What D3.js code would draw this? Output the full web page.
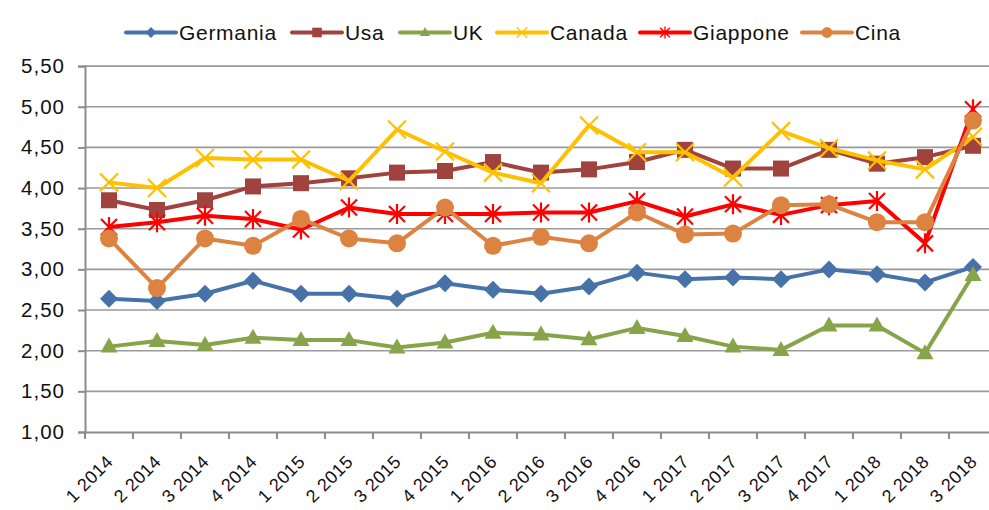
<!DOCTYPE html>
<html><head><meta charset="utf-8">
<script src="https://cdn.jsdelivr.net/npm/d3@7"></script>
<style>body{margin:0;background:#fff}svg{display:block}</style>
</head><body>
<svg id="c" width="989" height="510"></svg>
<script>
const categories = ["1 2014","2 2014","3 2014","4 2014","1 2015","2 2015","3 2015","4 2015","1 2016","2 2016","3 2016","4 2016","1 2017","2 2017","3 2017","4 2017","1 2018","2 2018","3 2018"];
const germania = [2.64,2.61,2.70,2.86,2.70,2.70,2.64,2.83,2.75,2.70,2.79,2.96,2.88,2.90,2.88,3.00,2.94,2.84,3.03];
const usa      = [3.85,3.73,3.85,4.02,4.06,4.12,4.19,4.21,4.32,4.19,4.23,4.32,4.47,4.24,4.24,4.47,4.30,4.38,4.52];
const uk       = [2.05,2.12,2.07,2.16,2.13,2.13,2.04,2.10,2.22,2.20,2.14,2.28,2.18,2.05,2.01,2.31,2.31,1.97,2.93];
const canada   = [4.07,4.00,4.37,4.35,4.35,4.09,4.72,4.45,4.19,4.06,4.77,4.44,4.44,4.13,4.70,4.49,4.34,4.23,4.63];
const giappone = [3.52,3.58,3.66,3.62,3.49,3.76,3.68,3.68,3.68,3.70,3.70,3.84,3.65,3.80,3.67,3.79,3.84,3.32,4.97];
const cina     = [3.38,2.77,3.38,3.29,3.62,3.38,3.32,3.76,3.29,3.40,3.32,3.70,3.43,3.44,3.79,3.80,3.58,3.58,4.83];
const yTicks = [1.0,1.5,2.0,2.5,3.0,3.5,4.0,4.5,5.0,5.5];
const seriesNames = ["Germania","Usa","UK","Canada","Giappone","Cina"];

const series = [
  {name:"Germania", values:germania, color:"#4672A8", marker:"diamond"},
  {name:"Usa", values:usa, color:"#A0423D", marker:"square"},
  {name:"UK", values:uk, color:"#87A44B", marker:"triangle"},
  {name:"Canada", values:canada, color:"#FFC000", marker:"x"},
  {name:"Giappone", values:giappone, color:"#FF0000", marker:"star"},
  {name:"Cina", values:cina, color:"#DC8341", marker:"circle"}
];

const svg = d3.select("#c");
const font = "'Liberation Sans',Arial,sans-serif";
const L = 85, R = 997, T = 66.1, B = 432;
const x = d3.scaleBand().domain(categories).range([L, R]);
const y = d3.scaleLinear().domain([1, 5.5]).range([B, T]);
const fmt = v => d3.format(".2f")(v).replace(".", ",");

// gridlines
svg.append("g").selectAll("line").data(yTicks.slice(1)).join("line")
  .attr("x1", L).attr("x2", R).attr("y1", d => y(d)).attr("y2", d => y(d))
  .attr("stroke", "#9a9a9a").attr("stroke-width", 1.6);

// y axis
const ya = svg.append("g").attr("transform", `translate(${L},0)`)
  .call(d3.axisLeft(y).tickValues(yTicks).tickFormat(fmt).tickSize(7).tickPadding(13));
ya.select(".domain").attr("stroke", "#8c8c8c").attr("stroke-width", 2);
ya.selectAll(".tick line").attr("stroke", "#8c8c8c").attr("stroke-width", 2);
ya.selectAll("text").attr("font-family", font).attr("font-size", 20.5)
  .attr("letter-spacing", 1).attr("fill", "#111");

// x axis
const xa = svg.append("g").attr("transform", `translate(0,${B})`)
  .call(d3.axisBottom(x).tickSize(0).tickSizeOuter(0));
xa.select(".domain").attr("stroke", "#8c8c8c").attr("stroke-width", 2);
xa.selectAll(".tick line").remove();
xa.selectAll(".tick text")
  .attr("font-family", font).attr("font-size", 18).attr("letter-spacing", 0.4).attr("fill", "#111")
  .attr("text-anchor", "end").attr("dy", 0).attr("y", 0)
  .attr("transform", "translate(5,31) rotate(-45)");
// boundary tick marks
svg.append("g").selectAll("line").data(categories).join("line")
  .attr("x1", d => x(d)).attr("x2", d => x(d)).attr("y1", B).attr("y2", B + 7)
  .attr("stroke", "#8c8c8c").attr("stroke-width", 2);

function drawMarker(g, type, color) {
  switch (type) {
    case "diamond":
      g.append("path").attr("d", "M0,-9L9,0L0,9L-9,0Z").attr("fill", color); break;
    case "square":
      g.append("rect").attr("x", -8).attr("y", -8).attr("width", 16).attr("height", 16).attr("fill", color); break;
    case "triangle":
      g.append("path").attr("d", "M0,-9L8.5,6L-8.5,6Z").attr("fill", color); break;
    case "circle":
      g.append("circle").attr("r", 9).attr("fill", color); break;
    case "x":
      g.append("path").attr("d", "M-9,-9L9,9M-9,9L9,-9").attr("stroke", color).attr("stroke-width", 2.2); break;
    case "star":
      g.append("path").attr("d", "M-8,-8L8,8M-8,8L8,-8M0,-10L0,10").attr("stroke", color).attr("stroke-width", 2.2); break;
  }
}

const line = d3.line().x((d, i) => x(categories[i]) + x.bandwidth() / 2).y(d => y(d));
series.forEach(s => {
  const g = svg.append("g");
  g.append("path").datum(s.values).attr("d", line).attr("fill", "none")
    .attr("stroke", s.color).attr("stroke-width", 4).attr("stroke-linejoin", "round");
  s.values.forEach((v, i) => {
    const m = g.append("g").attr("transform", `translate(${x(categories[i]) + x.bandwidth() / 2},${y(v)})`);
    drawMarker(m, s.marker, s.color);
  });
});

// legend
const legX = [126, 292, 400, 497, 640, 802];
series.forEach((s, i) => {
  const g = svg.append("g").attr("transform", `translate(${legX[i]},32.5)`);
  g.append("line").attr("x1", 0).attr("x2", 50).attr("stroke", s.color).attr("stroke-width", 4)
    .attr("stroke-linecap", "round");
  const m = g.append("g").attr("transform", "translate(25,0) scale(0.6)");
  drawMarker(m, s.marker, s.color);
  g.append("text").attr("x", 53).attr("y", 7.5).text(seriesNames[i])
    .attr("font-family", font).attr("font-size", 21).attr("letter-spacing", 0.7).attr("fill", "#111");
});
</script>
</body></html>
